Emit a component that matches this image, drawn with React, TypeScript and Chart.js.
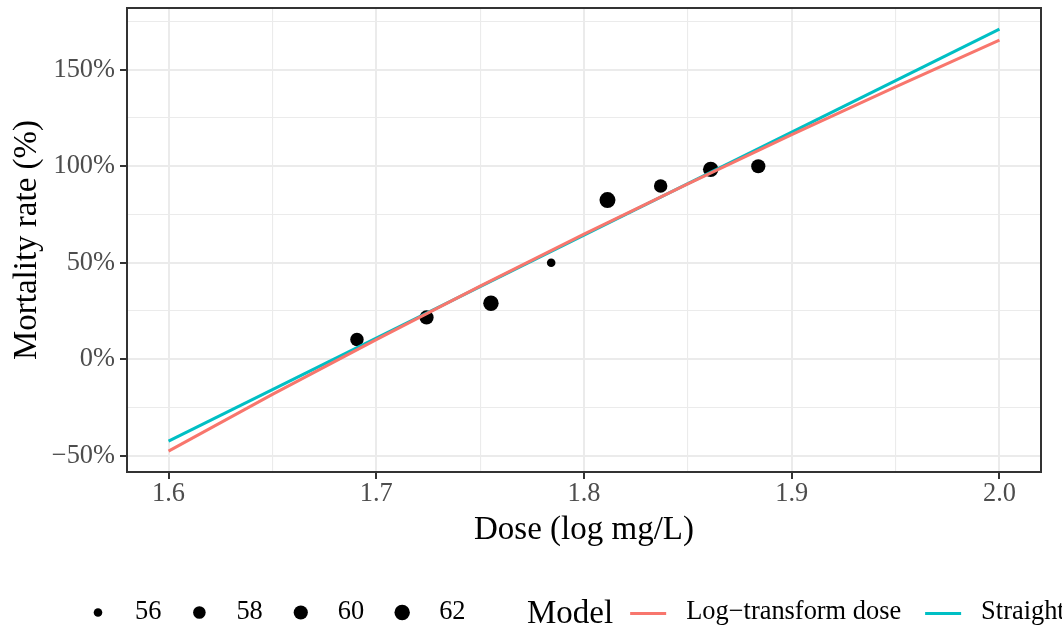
import React, { useEffect, useRef } from "react";
import { Chart, registerables } from "chart.js";

Chart.register(...registerables);

// ---- Data ----
const doses = [1.6907, 1.7242, 1.7552, 1.7842, 1.8113, 1.8369, 1.861, 1.8839];
const mortality = [10.2, 21.7, 29.0, 50.0, 82.5, 89.8, 98.4, 100.0];
const counts = [59, 60, 62, 56, 63, 59, 62, 60];

const logFitDose = [1.6, 1.65, 1.7, 1.75, 1.8, 1.85, 1.9, 1.95, 2.0];
const logFitRate = [-47.6, -18.2, 10.2, 37.9, 64.8, 90.9, 116.4, 141.1, 165.3];
const straightFitDose = [1.6, 2.0];
const straightFitRate = [-42.4, 171.1];

const xMajorTicks = [1.6, 1.7, 1.8, 1.9, 2.0];
const xMinorTicks = [1.65, 1.75, 1.85, 1.95];
const yMajorTicks = [-50, 0, 50, 100, 150];
const yMinorTicks = [-25, 25, 75, 125, 175];
const sizeLegendValues = [56, 58, 60, 62];
const modelNames = ["Log\u2212transform dose", "Straight"];
const modelColors = ["#F8766D", "#00BFC4"];
const legendTitle = "Model";
const xTitle = "Dose (log mg/L)";
const yTitle = "Mortality rate (%)";

// ---- Styling helpers ----
const FONT = '"Liberation Serif", "Times New Roman", serif';
const R_MIN = 4.3;
const R_MAX = 8;
const N_MIN = Math.min(...counts);
const N_MAX = Math.max(...counts);
const radiusFor = (n: number) =>
  R_MIN + (R_MAX - R_MIN) * Math.sqrt(Math.max(0, (n - N_MIN) / (N_MAX - N_MIN)));

const isIn = (arr: number[], v: number) => arr.some((t) => Math.abs(t - v) < 1e-9);

const panelBorderPlugin = {
  id: "panelBorder",
  afterDraw(chart: any) {
    const { ctx, chartArea } = chart;
    ctx.save();
    ctx.strokeStyle = "#333333";
    ctx.lineWidth = 2;
    ctx.strokeRect(
      chartArea.left,
      chartArea.top,
      chartArea.right - chartArea.left,
      chartArea.bottom - chartArea.top
    );
    ctx.restore();
  },
};

const bottomLegendPlugin = {
  id: "bottomLegend",
  afterDraw(chart: any) {
    const ctx = chart.ctx as CanvasRenderingContext2D;
    ctx.save();
    const y = 612.5;
    ctx.textBaseline = "middle";
    ctx.textAlign = "left";
    ctx.fillStyle = "#000000";
    ctx.font = `26.4px ${FONT}`;
    let x = 98;
    sizeLegendValues.forEach((v) => {
      const r = radiusFor(v);
      ctx.beginPath();
      ctx.arc(x, y, r, 0, Math.PI * 2);
      ctx.fill();
      const tx = x + 37;
      const label = String(v);
      ctx.fillText(label, tx, y);
      x = tx + ctx.measureText(label).width + 38;
    });

    // Model legend
    ctx.font = `33px ${FONT}`;
    const titleX = 527;
    ctx.fillText(legendTitle, titleX, y + 1.5);
    let kx = titleX + ctx.measureText(legendTitle).width + 17;
    ctx.font = `26.4px ${FONT}`;
    modelNames.forEach((name, i) => {
      ctx.strokeStyle = modelColors[i];
      ctx.lineWidth = 3;
      ctx.beginPath();
      ctx.moveTo(kx, y + 1);
      ctx.lineTo(kx + 36, y + 1);
      ctx.stroke();
      const tx = kx + 36 + 20;
      ctx.fillStyle = "#000000";
      ctx.fillText(name, tx, y);
      kx = tx + ctx.measureText(name).width + 24;
    });
    ctx.restore();
  },
};

export default function App() {
  const canvasRef = useRef<HTMLCanvasElement | null>(null);

  useEffect(() => {
    const canvas = canvasRef.current;
    if (!canvas) return;

    const pointData = doses.map((d, i) => ({ x: d, y: mortality[i] }));
    const logData = logFitDose.map((d, i) => ({ x: d, y: logFitRate[i] }));
    const straightData = straightFitDose.map((d, i) => ({ x: d, y: straightFitRate[i] }));

    const chart = new Chart(canvas, {
      type: "scatter",
      data: {
        datasets: [
          {
            label: "Observed",
            data: pointData,
            order: 3,
            showLine: false,
            backgroundColor: "#000000",
            borderColor: "#000000",
            pointBackgroundColor: "#000000",
            pointBorderWidth: 0,
            pointRadius: (c: any) => radiusFor(counts[c.dataIndex] ?? N_MIN),
            pointHoverRadius: (c: any) => radiusFor(counts[c.dataIndex] ?? N_MIN),
          } as any,
          {
            label: modelNames[1],
            data: straightData,
            order: 2,
            showLine: true,
            borderColor: modelColors[1],
            backgroundColor: modelColors[1],
            borderWidth: 3,
            pointRadius: 0,
            pointHoverRadius: 0,
            tension: 0,
          } as any,
          {
            label: modelNames[0],
            data: logData,
            order: 1,
            showLine: true,
            borderColor: modelColors[0],
            backgroundColor: modelColors[0],
            borderWidth: 3,
            pointRadius: 0,
            pointHoverRadius: 0,
            tension: 0,
          } as any,
        ],
      },
      options: {
        responsive: false,
        animation: false,
        events: [],
        layout: { padding: { top: 7, right: 21, bottom: 81.5, left: 0 } },
        plugins: {
          legend: { display: false },
          tooltip: { enabled: false },
        },
        scales: {
          x: {
            type: "linear",
            min: 1.58,
            max: 2.02,
            afterBuildTicks: (scale: any) => {
              scale.ticks = [...xMajorTicks, ...xMinorTicks]
                .sort((a, b) => a - b)
                .map((v) => ({ value: v }));
            },
            afterFit: (scale: any) => {
              scale.height = 74.5;
              scale.paddingLeft = 0;
              scale.paddingRight = 0;
              scale.paddingTop = 0;
              scale.paddingBottom = 0;
            },
            border: { display: false },
            grid: {
              color: "#EBEBEB",
              lineWidth: (c: any) => (isIn(xMajorTicks, c.tick?.value) ? 2 : 1.1),
              drawTicks: true,
              tickLength: 7,
              tickWidth: 2,
              tickColor: (c: any) =>
                isIn(xMajorTicks, c.tick?.value) ? "#333333" : "rgba(0,0,0,0)",
            },
            ticks: {
              autoSkip: false,
              maxRotation: 0,
              padding: 2,
              color: "#4D4D4D",
              font: { family: FONT, size: 26.4, lineHeight: 1 },
              callback: (v: any) => (isIn(xMajorTicks, Number(v)) ? Number(v).toFixed(1) : ""),
            },
            title: {
              display: true,
              text: xTitle,
              color: "#000000",
              font: { family: FONT, size: 33, lineHeight: 1 },
              padding: { top: 0, bottom: 0 },
            },
          },
          y: {
            type: "linear",
            min: -58.4,
            max: 182,
            afterBuildTicks: (scale: any) => {
              scale.ticks = [...yMajorTicks, ...yMinorTicks]
                .sort((a, b) => a - b)
                .map((v) => ({ value: v }));
            },
            afterFit: (scale: any) => {
              scale.width = 127;
              scale.paddingLeft = 0;
              scale.paddingRight = 0;
              scale.paddingTop = 0;
              scale.paddingBottom = 0;
            },
            border: { display: false },
            grid: {
              color: "#EBEBEB",
              lineWidth: (c: any) => (isIn(yMajorTicks, c.tick?.value) ? 2 : 1.1),
              drawTicks: true,
              tickLength: 7,
              tickWidth: 2,
              tickColor: (c: any) =>
                isIn(yMajorTicks, c.tick?.value) ? "#333333" : "rgba(0,0,0,0)",
            },
            ticks: {
              autoSkip: false,
              padding: 5,
              color: "#4D4D4D",
              font: { family: FONT, size: 26.4, lineHeight: 1 },
              callback: (v: any) => {
                const n = Number(v);
                if (!isIn(yMajorTicks, n)) return "";
                return (n < 0 ? "\u2212" : "") + Math.abs(n) + "%";
              },
            },
            title: {
              display: true,
              text: yTitle,
              color: "#000000",
              font: { family: FONT, size: 33, lineHeight: 1 },
              padding: { top: 10.5, bottom: 0 },
            },
          },
        },
      },
      plugins: [panelBorderPlugin, bottomLegendPlugin],
    });

    return () => {
      chart.destroy();
    };
  }, []);

  return (
    <div
      style={{
        position: "absolute",
        left: 0,
        top: 0,
        width: 1062,
        height: 628,
        background: "#ffffff",
        overflow: "hidden",
      }}
    >
      <canvas
        ref={canvasRef}
        width={1062}
        height={628}
        style={{ width: 1062, height: 628, display: "block" }}
      />
    </div>
  );
}
